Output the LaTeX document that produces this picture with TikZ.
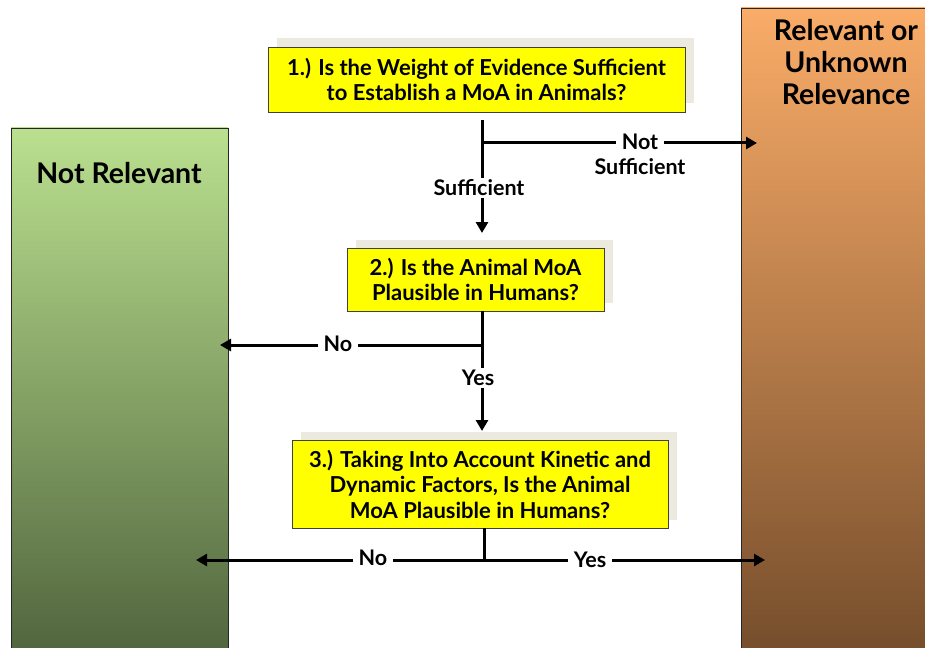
\documentclass[tikz,border=0pt]{standalone}
\usepackage{fontspec}
\setmainfont{Lato}
\usetikzlibrary{arrows.meta,shadows}
\definecolor{qyellow}{RGB}{255,255,0}
\definecolor{shadowgray}{RGB}{236,233,223}
\definecolor{greentop}{RGB}{186,224,143}
\definecolor{greenbot}{RGB}{82,102,62}
\definecolor{orangetop}{RGB}{250,172,104}
\definecolor{brownbot}{RGB}{118,78,44}
\tikzset{
  qbox/.style={draw=black!75, line width=0.8pt, fill=qyellow, align=center,
    font=\bfseries\fontsize{22}{25.5}\selectfont, inner sep=0pt,
    drop shadow={shadow xshift=8.5pt, shadow yshift=8.5pt, fill=shadowgray, opacity=1}},
  panel/.style={draw=black!85, line width=0.8pt, inner sep=0pt},
  ptitle/.style={font=\bfseries\fontsize{28.5}{32}\selectfont, align=center, inner sep=0pt},
  lbl/.style={font=\bfseries\fontsize{21.5}{24}\selectfont, inner xsep=6pt, inner ysep=2pt},
  flow/.style={line width=3pt},
  arr/.style={flow, -{Triangle[length=11pt,width=12pt]}},
}
\begin{document}
\begin{tikzpicture}[x=1pt,y=1pt]
\useasboundingbox (0,0) rectangle (925,-647);
% panels
\node[panel, top color=greentop, bottom color=greenbot, minimum width=217pt, minimum height=522pt] (nrpanel) at (119.5,-389) {};
\node[panel, top color=orangetop, bottom color=brownbot, minimum width=190pt, minimum height=643pt] (rpanel) at (836,-329.5) {};
\node[ptitle] (nrtitle) at (119,-173) {Not Relevant};
\node[ptitle] (rtitle) at (846,-62) {Relevant or\\Unknown\\Relevance};
% question boxes
\node[qbox, minimum width=417pt, minimum height=65pt] (q1) at (476.5,-79.5) {1.) Is the Weight of Evidence Sufficient\\to Establish a MoA in Animals?};
\node[qbox, minimum width=257pt, minimum height=63pt] (q2) at (475.5,-279.5) {2.) Is the Animal MoA\\Plausible in Humans?};
\node[qbox, minimum width=376pt, minimum height=88pt] (q3) at (480,-484) {3.) Taking Into Account Kinetic and\\Dynamic Factors, Is the Animal\\MoA Plausible in Humans?};
% labels
\node[lbl] (suf) at (479,-188) {Sufficient};
\node[lbl] (notl) at (640,-142) {Not};
\node[lbl, inner ysep=0pt] (sufb) at (640,-167) {Sufficient};
\node[lbl] (no1) at (338,-344) {No};
\node[lbl] (yes1) at (478,-378) {Yes};
\node[lbl] (no2) at (373,-558) {No};
\node[lbl] (yes2) at (590,-560) {Yes};
% coordinates
\coordinate (t1) at (482,-120);
\coordinate (j1) at (482,-143);
\coordinate (a2) at (482,-233);
\coordinate (e1) at (757,-143);
\coordinate (t2) at (482,-311);
\coordinate (j2) at (484,-345);
\coordinate (e2) at (220,-345);
\coordinate (a3) at (482,-431);
\coordinate (t3) at (484,-528);
\coordinate (j3) at (484,-560);
\coordinate (e3) at (196,-560);
\coordinate (e4) at (765,-560);
% connectors
\draw[flow] (t1) -- (t1 |- suf.north);
\draw[flow] (j1) -- (notl.west |- j1);
\draw[arr] (notl.east |- j1) -- (e1);
\draw[arr] (t1 |- suf.south) -- (a2);
\draw[flow] (t2) -- (t2 |- yes1.north);
\draw[flow] (j2) -- (no1.east |- j2);
\draw[arr] (no1.west |- j2) -- (e2);
\draw[arr] (t2 |- yes1.south) -- (a3);
\draw[flow] (t3) -- (j3);
\draw[flow] ([xshift=1.5pt]j3) -- (no2.east |- j3);
\draw[arr] (no2.west |- j3) -- (e3);
\draw[flow] ([xshift=-1.5pt]j3) -- (yes2.west |- j3);
\draw[arr] (yes2.east |- j3) -- (e4);
\end{tikzpicture}
\end{document}
